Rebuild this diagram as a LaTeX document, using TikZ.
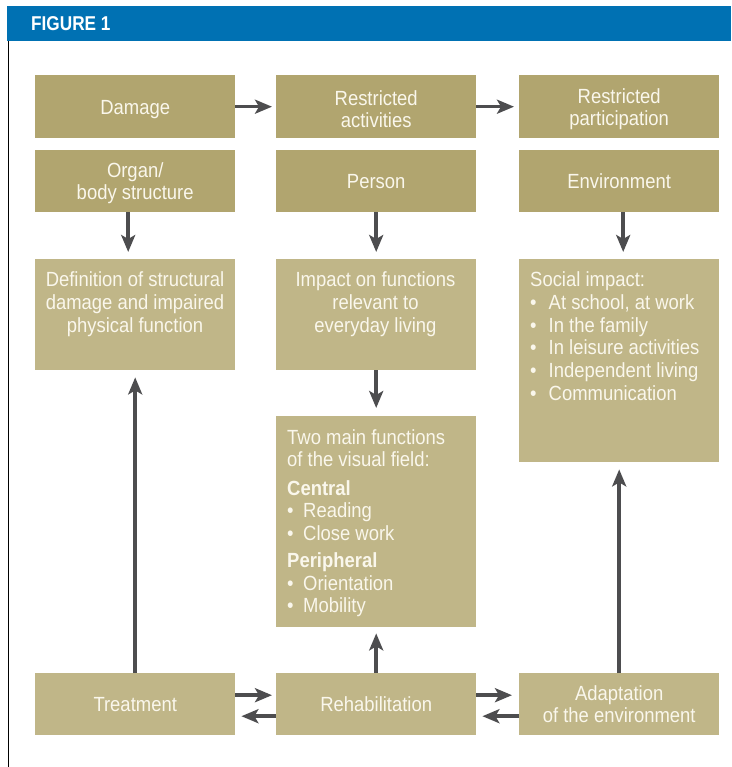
\documentclass[tikz,border=0pt]{standalone}
\usepackage{fontspec}
\setmainfont{Liberation Sans}[FakeStretch=0.9]
\newfontfamily\headfont{Liberation Sans}[FakeStretch=0.86]
\usetikzlibrary{arrows.meta}
\definecolor{darkbox}{RGB}{177,165,111}
\definecolor{lightbox}{RGB}{192,182,136}
\definecolor{headblue}{RGB}{0,113,179}
\definecolor{arrowgray}{RGB}{77,77,79}
\definecolor{boxtext}{RGB}{250,247,236}
\tikzset{
  dbox/.style={fill=darkbox, draw=none, minimum width=200pt, inner sep=0pt, anchor=north west,
    text=boxtext, align=center, font=\fontsize{20.5}{22}\selectfont},
  lbox/.style={fill=lightbox, draw=none, minimum width=200pt, inner sep=0pt, anchor=north west,
    text=boxtext, align=center, font=\fontsize{20.5}{22.5}\selectfont},
  boxtxt/.style={text=boxtext, inner sep=0pt, font=\fontsize{20.5}{22.9}\selectfont},
  arr/.style={draw=arrowgray, line width=3.6pt, -{Stealth[length=17pt, width=14pt, inset=4pt]}},
}
\newcommand{\bl}[1]{\makebox[#1][l]{\textbullet}}
\newcommand{\lowr}{\rule{0pt}{19.5pt}}
\begin{document}
\begin{tikzpicture}[x=1pt, y=-1pt]
\useasboundingbox (0,0) rectangle (731,767);
% header
\fill[headblue] (7,6) rectangle (731,41);
\node[anchor=west, text=white, inner sep=0pt, font=\headfont\bfseries\fontsize{20}{20}\selectfont] (fig) at (31,24) {FIGURE 1};
\draw[black, line width=1.6pt] (8.5,41) -- (8.5,767);
% top row
\node[dbox, minimum height=63pt] (damage) at (35,75) {\lowr Damage};
\node[dbox, minimum height=63pt] (ract) at (276,75) {\lowr Restricted\\activities};
\node[dbox, minimum height=63pt] (rpart) at (519,75) {\lowr Restricted\\participation};
% second row
\node[dbox, minimum height=62pt] (organ) at (35,150) {\lowr Organ/\\body structure};
\node[dbox, minimum height=62pt] (person) at (276,150) {Person};
\node[dbox, minimum height=62pt] (env) at (519,150) {Environment};
% third row
\node[lbox, minimum height=111pt] (def) at (35,259) {};
\node[boxtxt, anchor=north, align=center] (deft) at (135,270) {\strut Definition of structural\\damage and impaired\\physical function};
\node[lbox, minimum height=111pt] (impact) at (276,259) {};
\node[boxtxt, anchor=north, align=center] (impactt) at (375.5,270) {\strut Impact on functions\\relevant to\\everyday living};
\node[lbox, minimum height=203pt] (social) at (519,259) {};
\node[boxtxt, anchor=north west, align=left] (socialt) at (530,270) {\strut Social impact:\\
\bl{18.5pt}At school, at work\\
\bl{18.5pt}In the family\\
\bl{18.5pt}In leisure activities\\
\bl{18.5pt}Independent living\\
\bl{18.5pt}Communication};
% visual field box
\node[lbox, minimum height=211pt] (vis) at (276,416) {};
\node[boxtxt, anchor=north west, align=left, font=\fontsize{20.5}{22.5}\selectfont] (vist) at (287,428.5) {\strut Two main functions\\
of the visual field:\\[6pt]
\textbf{Central}\\
\bl{16pt}Reading\\
\bl{16pt}Close work\\[5pt]
\textbf{Peripheral}\\
\bl{16pt}Orientation\\
\bl{16pt}Mobility};
% bottom row
\node[lbox, minimum height=62pt] (treat) at (35,673) {Treatment};
\node[lbox, minimum height=62pt] (rehab) at (276,673) {Rehabilitation};
\node[lbox, minimum height=62pt] (adapt) at (519,673) {Adaptation\\of the environment};
% arrows top row
\draw[arr, shorten >=4pt] (damage.east) -- (ract.west);
\draw[arr, shorten >=5pt] (ract.east) -- (rpart.west);
% down arrows
\draw[arr, shorten >=7pt] ([xshift=-7pt]organ.south) -- ([xshift=-7pt]organ.south |- def.north);
\draw[arr, shorten >=7pt] (person.south) -- (person.south |- impact.north);
\draw[arr, shorten >=7pt] ([xshift=4pt]env.south) -- ([xshift=4pt]env.south |- social.north);
\draw[arr, shorten >=8pt] (impact.south) -- (impact.south |- vis.north);
% up arrows
\draw[arr, shorten >=7pt] (treat.north) -- (treat.north |- def.south);
\draw[arr, shorten >=6pt] (rehab.north) -- (rehab.north |- vis.south);
\draw[arr, shorten >=7pt] (adapt.north) -- (adapt.north |- social.south);
% bottom horizontal arrows (yshift is in canvas units: positive = up)
\draw[arr, shorten >=4pt] ([yshift=9pt]treat.east) -- ([yshift=9pt]treat.east -| rehab.west);
\draw[arr, shorten >=6pt] ([yshift=-12pt]rehab.west) -- ([yshift=-12pt]rehab.west -| treat.east);
\draw[arr, shorten >=7pt] ([yshift=9pt]rehab.east) -- ([yshift=9pt]rehab.east -| adapt.west);
\draw[arr, shorten >=6pt] ([yshift=-12pt]adapt.west) -- ([yshift=-12pt]adapt.west -| rehab.east);
\end{tikzpicture}
\end{document}
